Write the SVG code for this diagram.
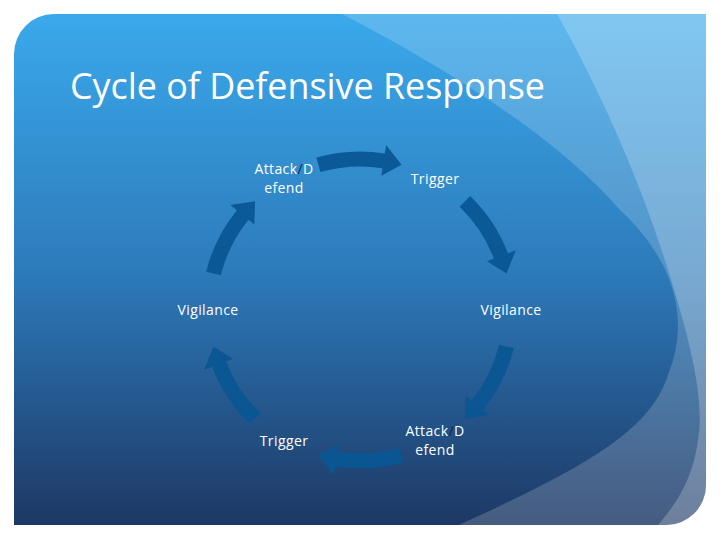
<svg xmlns="http://www.w3.org/2000/svg" xmlns:xlink="http://www.w3.org/1999/xlink" width="720" height="540" viewBox="0 0 720 540">
  <style>
    .lbl { font-family: "Open Sans", "Liberation Sans", sans-serif; font-size: 14px; fill: #ffffff; text-anchor: middle; letter-spacing: 0.4px; }
    .slash { fill: #14284d; }
    .title { font-family: "Open Sans", "Liberation Sans", sans-serif; font-size: 36px; fill: #ffffff; }
    .arrow { fill: #0a5693; fill-opacity: 0.95; }
  </style>
  <defs>
    <linearGradient id="bg" x1="0" y1="14" x2="0" y2="525" gradientUnits="userSpaceOnUse">
      <stop offset="0" stop-color="#3aa9eb"/>
      <stop offset="0.5" stop-color="#2d7bbb"/>
      <stop offset="1" stop-color="#1d3864"/>
    </linearGradient>
    <clipPath id="slideClip">
      <path d="M54,14 H706 V485 A40,40 0 0 1 666,525 H14 V54 A40,40 0 0 1 54,14 Z"/>
    </clipPath>
    <path id="arr" d="M316.3,157.6 A158.5,158.5 0 0 1 384.8,153.5 L386.1,145.1 L401.6,164.8 L381.3,175.7 L382.4,168.3 A143.5,143.5 0 0 0 320.4,172.1 Z"/>
  </defs>

  <rect width="720" height="540" fill="#ffffff"/>

  <g id="background" clip-path="url(#slideClip)">
    <rect x="14" y="14" width="692" height="511" fill="url(#bg)"/>
    <path d="M342,14 C450,70 560,140 620,210 C676,262 690,320 668,375 C650,430 590,465 459,525 L706,525 L706,14 Z" fill="#ffffff" fill-opacity="0.18"/>
    <path d="M557,14 C600,90 640,180 668,270 C690,340 705,400 698,440 C693,480 675,505 658,525 L706,525 L706,14 Z" fill="#ffffff" fill-opacity="0.22"/>
  </g>

  <text class="title" x="70" y="99" textLength="475" lengthAdjust="spacingAndGlyphs">Cycle of Defensive Response</text>

  <g id="connectors">
    <use xlink:href="#arr" class="arrow"/>
    <use xlink:href="#arr" class="arrow" transform="rotate(60 360 310)"/>
    <use xlink:href="#arr" class="arrow" transform="rotate(120 360 310)"/>
    <use xlink:href="#arr" class="arrow" transform="rotate(180 360 310)"/>
    <use xlink:href="#arr" class="arrow" transform="rotate(240 360 310)"/>
    <use xlink:href="#arr" class="arrow" transform="rotate(300 360 310)"/>
  </g>

  <g id="node-attack-top">
    <text class="lbl" x="284" y="174">Attack<tspan class="slash">/</tspan>D</text>
    <text class="lbl" x="284" y="193">efend</text>
  </g>
  <g id="node-trigger-top">
    <text class="lbl" x="435" y="184">Trigger</text>
  </g>
  <g id="node-vigilance-right">
    <text class="lbl" x="511" y="315">Vigilance</text>
  </g>
  <g id="node-attack-bottom">
    <text class="lbl" x="435" y="436">Attack<tspan class="slash">/</tspan>D</text>
    <text class="lbl" x="435" y="455">efend</text>
  </g>
  <g id="node-trigger-bottom">
    <text class="lbl" x="284" y="446">Trigger</text>
  </g>
  <g id="node-vigilance-left">
    <text class="lbl" x="208" y="315">Vigilance</text>
  </g>
</svg>
